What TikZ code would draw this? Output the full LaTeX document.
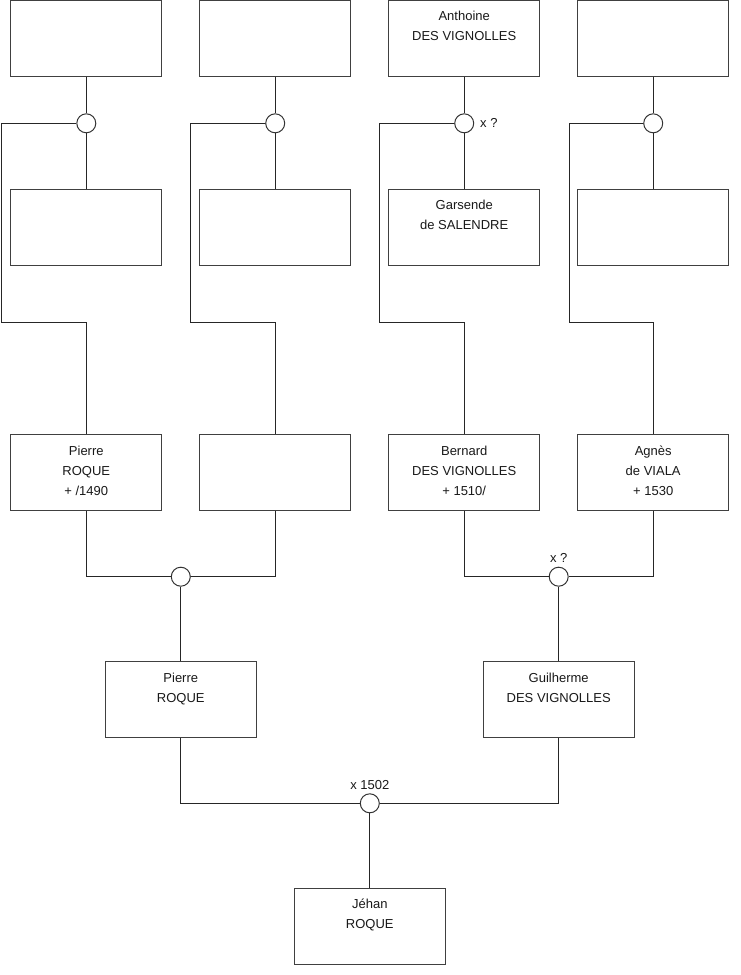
\documentclass[tikz,border=0pt]{standalone}
\usepackage{fontspec}
\setmainfont{Liberation Sans}
\begin{document}
\begin{tikzpicture}[x=1pt,y=-1pt,
  person/.style={draw=black!75, line width=1pt, minimum width=151pt, minimum height=76pt, inner sep=0pt, fill=white},
  txt/.style={anchor=north, inner sep=0pt, align=center, font=\fontsize{13}{20}\selectfont, text=black!90},
  union/.style={circle, draw=black!80, line width=1pt, minimum size=19pt, inner sep=0pt, fill=white},
  link/.style={draw=black!85, line width=1pt},
  note/.style={inner sep=0pt, font=\fontsize{13}{15}\selectfont, text=black!90}]
\useasboundingbox (0,0) rectangle (740,975);
% row 1
\node[person] (b1) at (86.3,38) {};
\node[person] (b2) at (275.2,38) {};
\node[person] (b3) at (464.2,38) {};
\node[person] (b4) at (653.2,38) {};
% unions row 1
\node[union] (c1) at (86.3,123.3) {};
\node[union] (c2) at (275.2,123.3) {};
\node[union] (c3) at (464.2,123.3) {};
\node[union] (c4) at (653.2,123.3) {};
% row 2
\node[person] (b5) at (86.3,227) {};
\node[person] (b6) at (275.2,227) {};
\node[person] (b7) at (464.2,227) {};
\node[person] (b8) at (653.2,227) {};
% row 3
\node[person] (b9) at (86.3,472.7) {};
\node[person] (b10) at (275.2,472.7) {};
\node[person] (b11) at (464.2,472.7) {};
\node[person] (b12) at (653.2,472.7) {};
% row 3 unions
\node[union] (c5) at (180.8,576.7) {};
\node[union] (c6) at (558.7,576.7) {};
% row 4
\node[person] (b13) at (180.8,699.3) {};
\node[person] (b14) at (558.7,699.3) {};
\node[union] (c7) at (369.8,803.3) {};
\node[person] (b15) at (369.8,926.2) {};
% corner coordinates
\coordinate (k1) at (1.7,322);
\coordinate (k2) at (190.3,322);
\coordinate (k3) at (379,322);
\coordinate (k4) at (569,322);
% connectors
\foreach \t/\c/\m/\k/\d in {b1/c1/b5/k1/b9, b2/c2/b6/k2/b10, b3/c3/b7/k3/b11, b4/c4/b8/k4/b12}{
  \draw[link] (\t.south) -- (\c.north);
  \draw[link] (\c.south) -- (\m.north);
  \draw[link] (\c.west) -| (\k) -| (\d.north);
}
\draw[link] (b9.south) |- (c5.west);
\draw[link] (b10.south) |- (c5.east);
\draw[link] (c5.south) -- (b13.north);
\draw[link] (b11.south) |- (c6.west);
\draw[link] (b12.south) |- (c6.east);
\draw[link] (c6.south) -- (b14.north);
\draw[link] (b13.south) |- (c7.west);
\draw[link] (b14.south) |- (c7.east);
\draw[link] (c7.south) -- (b15.north);
% texts
\node[txt] (t3) at ([yshift=-7pt]b3.north) {\strut Anthoine\\DES VIGNOLLES};
\node[txt] (t7) at ([yshift=-7pt]b7.north) {\strut Garsende\\de SALENDRE};
\node[txt] (t9) at ([yshift=-7pt]b9.north) {\strut Pierre\\ROQUE\\+ /1490};
\node[txt] (t11) at ([yshift=-7pt]b11.north) {\strut Bernard\\DES VIGNOLLES\\+ 1510/};
\node[txt] (t12) at ([yshift=-7pt]b12.north) {\strut Agnès\\de VIALA\\+ 1530};
\node[txt] (t13) at ([yshift=-7pt]b13.north) {\strut Pierre\\ROQUE};
\node[txt] (t14) at ([yshift=-7pt]b14.north) {\strut Guilherme\\DES VIGNOLLES};
\node[txt] (t15) at ([yshift=-7pt]b15.north) {\strut Jéhan\\ROQUE};
% union notes
\node[note, anchor=west] (n3) at (480,123.3) {x ?};
\node[note] (n6) at (558.7,557.5) {x ?};
\node[note] (n7) at (369.8,785.5) {x 1502};
\end{tikzpicture}
\end{document}
